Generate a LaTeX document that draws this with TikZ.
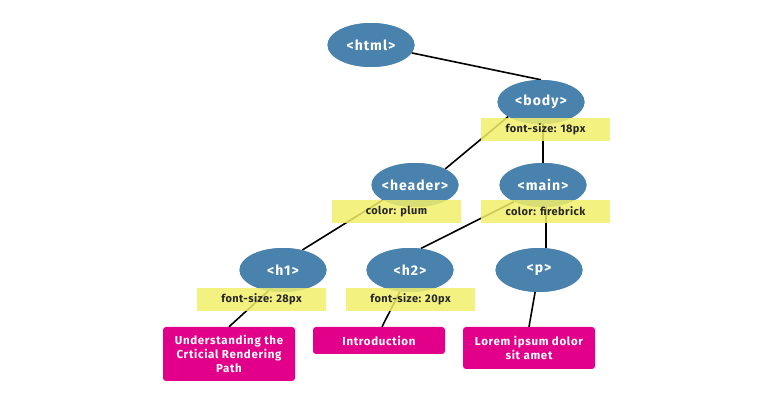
\documentclass[tikz,border=0pt]{standalone}
\usepackage{fontspec}
\setmainfont{Fira Sans}
\newfontfamily\ellfont[LetterSpace=7]{Fira Sans}
\newfontfamily\labfont[LetterSpace=4]{Fira Sans}
\newfontfamily\magfont[LetterSpace=6]{Fira Sans}
\usetikzlibrary{shapes.geometric,calc}
\definecolor{nodeblue}{HTML}{4A82AE}
\definecolor{labyellow}{HTML}{F1EE6A}
\definecolor{boxmag}{HTML}{E2008A}
\tikzset{
  ell/.style={ellipse, fill=nodeblue, text=white, minimum width=87pt, minimum height=44pt, inner xsep=-10pt, inner ysep=0pt, font=\ellfont\fontsize{14}{16}\selectfont\bfseries},
  lab/.style={rectangle, fill=labyellow, fill opacity=0.85, text opacity=1, text=black!85, minimum width=129pt, minimum height=23pt, inner sep=0pt, font=\labfont\fontsize{11}{13}\selectfont\bfseries},
  mag/.style={rectangle, rounded corners=3pt, fill=boxmag, text=white, minimum width=132pt, inner sep=0pt, align=center, font=\magfont\fontsize{11.5}{14}\selectfont\bfseries},
  conn/.style={draw=black, line width=1.6pt}
}
\begin{document}
\begin{tikzpicture}[x=1pt,y=-1pt]
\useasboundingbox (0,0) rectangle (780,411);
% ellipses
\node[ell] (html) at (371,45) {<html>};
\node[ell] (body) at (541,102) {<body>};
\node[ell] (header) at (415,185) {<header>};
\node[ell] (main) at (543,185) {<main>};
\node[ell] (h1) at (283,270) {<h1>};
\node[ell] (h2) at (410,270) {<h2>};
\node[ell] (p) at (539,270) {<p>};
% boxes
\node[mag, minimum height=54pt] (box1) at (229,354) {Understanding the\\Crticial Rendering\\Path};
\node[mag, minimum height=27pt] (box2) at (379,340.5) {Introduction};
\node[mag, minimum height=42pt] (box3) at (529,348) {Lorem ipsum dolor\\sit amet};
% connectors (behind ellipses)
\draw[conn] (html.-11) -- (body.north);
\draw[conn] (body.-156) -- (header.28);
\draw[conn] (body.south -| main.north) -- (main.north);
\draw[conn] (header.205) -- (h1.46);
\draw[conn] (main.210) -- (h2.63);
\draw[conn] ([xshift=3pt]main.south) -- ([xshift=3pt]main.south |- p.north);
\draw[conn] (h1.-125) -- (box1.north);
\draw[conn] (h2.-115) -- ([xshift=3pt]box2.north);
\draw[conn] (p.-100) -- (box3.north);
% redraw ellipses on top of connectors
\node[ell] at (html) {<html>};
\node[ell] at (body) {<body>};
\node[ell] at (header) {<header>};
\node[ell] at (main) {<main>};
\node[ell] at (h1) {<h1>};
\node[ell] at (h2) {<h2>};
\node[ell] at (p) {<p>};
% labels
\node[lab] (lbody) at (545.5,129.5) {font-size: 18px};
\node[lab] (lheader) at (396.5,211.5) {color: plum};
\node[lab] (lmain) at (545.5,211.5) {color: firebrick};
\node[lab] (lh1) at (261.5,299.5) {font-size: 28px};
\node[lab] (lh2) at (410.5,299.5) {font-size: 20px};
\end{tikzpicture}
\end{document}
